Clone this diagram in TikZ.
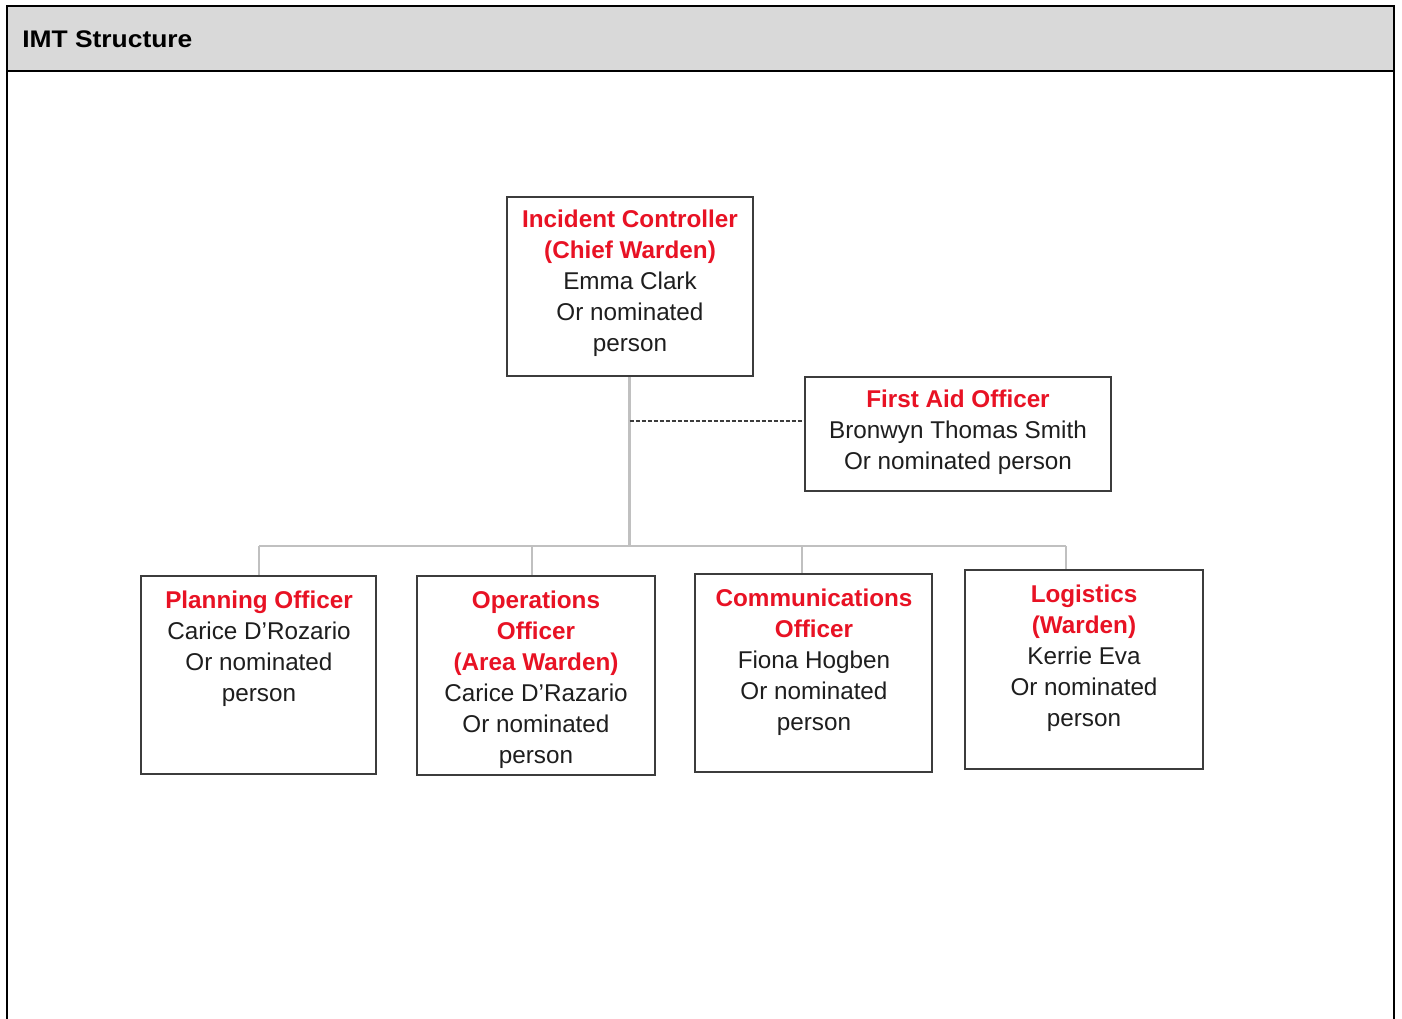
\documentclass[tikz,border=0pt]{standalone}
\usepackage{fontspec}
\setmainfont{Liberation Sans}
\usepackage{graphicx}
\definecolor{hdrfill}{RGB}{217,217,217}
\definecolor{redtxt}{RGB}{232,18,36}
\definecolor{boxline}{RGB}{60,60,60}
\definecolor{connline}{RGB}{192,192,192}
\definecolor{bodytxt}{RGB}{30,30,30}
\newcommand{\rt}[1]{\textcolor{redtxt}{\bfseries #1}}
\begin{document}
\begin{tikzpicture}[x=0.75pt,y=-0.75pt,
  frameline/.style={line width=1.5pt,draw=black},
  orgbox/.style={draw=boxline,line width=1.5pt,fill=white,rectangle,inner sep=0pt},
  orgtext/.style={align=center,inner sep=0pt,text=bodytxt,font=\fontsize{18.2}{23.25}\selectfont},
  conn/.style={draw=connline,line width=1.6pt},
  dashconn/.style={draw=boxline,line width=1.2pt,dash pattern=on 3pt off 1.5pt}]
\useasboundingbox (0,0) rectangle (1402,1019);
\fill[white] (0,0) rectangle (1402,1019);
% header
\filldraw[fill=hdrfill,frameline] (7,6) rectangle (1394,71);
\draw[frameline] (7,71) -- (7,1019);
\draw[frameline] (1394,71) -- (1394,1019);
\node[anchor=base west,inner sep=0pt,font=\fontsize{18}{22}\selectfont\bfseries] (title) at (22,48) {\scalebox{1.1}[1]{IMT Structure}};
% boxes
\node[orgbox,minimum width=246*0.75pt,minimum height=179*0.75pt] (ic) at (629.5,286.5) {};
\node[orgbox,minimum width=306*0.75pt,minimum height=114*0.75pt] (fa) at (958,434) {};
\node[orgbox,minimum width=235*0.75pt,minimum height=198*0.75pt] (pl) at (258.5,675) {};
\node[orgbox,minimum width=238*0.75pt,minimum height=199*0.75pt] (op) at (536,675.5) {};
\node[orgbox,minimum width=237*0.75pt,minimum height=198*0.75pt] (cm) at (813.5,673) {};
\node[orgbox,minimum width=238*0.75pt,minimum height=199*0.75pt] (lg) at (1084,669.5) {};
% connectors
\coordinate (j1) at (259,546);
\coordinate (j2) at (532,546);
\coordinate (j3) at (802,546);
\coordinate (j4) at (1066,546);
\coordinate (hub) at (ic.south |- j1);
\coordinate (dsh) at (629.5,421);
\draw[conn] (ic.south) -- (hub);
\draw[conn] (j1) -- (j4);
\draw[conn] (j1) -- (j1 |- pl.north);
\draw[conn] (j2) -- (j2 |- op.north);
\draw[conn] (j3) -- (j3 |- cm.north);
\draw[conn] (j4) -- (j4 |- lg.north);
\draw[dashconn] (dsh) -- (dsh -| fa.west);
% texts
\node[orgtext] (ict) at (630,283) {\rt{Incident Controller}\\\rt{(Chief Warden)}\\Emma Clark\\Or nominated\\person};
\node[orgtext] (fat) at (958,432) {\rt{First Aid Officer}\\Bronwyn Thomas Smith\\Or nominated person};
\node[orgtext,anchor=north] (plt) at (259,591) {\rt{Planning Officer}\\Carice D’Rozario\\Or nominated\\person};
\node[orgtext,anchor=north] (opt) at (536,591) {\rt{Operations}\\\rt{Officer}\\\rt{(Area Warden)}\\Carice D’Razario\\Or nominated\\person};
\node[orgtext,anchor=north] (cmt) at (814,589) {\rt{Communications}\\\rt{Officer}\\Fiona Hogben\\Or nominated\\person};
\node[orgtext,anchor=north] (lgt) at (1084,585) {\rt{Logistics}\\\rt{(Warden)}\\Kerrie Eva\\Or nominated\\person};
\end{tikzpicture}
\end{document}
